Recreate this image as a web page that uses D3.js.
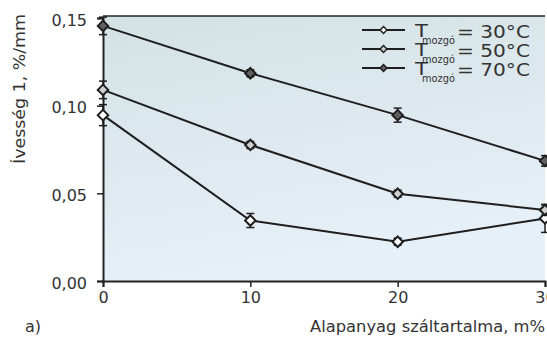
<!DOCTYPE html>
<html>
<head>
<meta charset="utf-8">
<script src="https://cdn.jsdelivr.net/npm/d3@7"></script>
<style>
  body { margin: 0; background: #fff; overflow: hidden; }
  text { font-family: "DejaVu Sans", Arial, sans-serif; fill: #333; }
</style>
</head>
<body>
<div id="chart"></div>
<script>
// data
var fiber = [0, 10, 20, 30];
var temps = ["30°C", "50°C", "70°C"];
var curv30 = [0.0946, 0.0345, 0.0224, 0.0357];
var curv50 = [0.1090, 0.0776, 0.0498, 0.0405];
var curv70 = [0.1455, 0.1185, 0.0946, 0.0685];
var err30 = [0.006, 0.004, 0.002, 0.008];
var err50 = [0.005, 0.002, 0.002, 0.003];
var err70 = [0.005, 0.002, 0.004, 0.003];
var yTicks = [0, 0.05, 0.10, 0.15];
var markerFill = ["#ffffff", "#d0d0d0", "#606060"];

var series = [
  {name: temps[0], vals: curv30, err: err30, fill: markerFill[0]},
  {name: temps[1], vals: curv50, err: err50, fill: markerFill[1]},
  {name: temps[2], vals: curv70, err: err70, fill: markerFill[2]}
];

var margin = {top: 18, right: 2, bottom: 56, left: 103},
    width = 547 - margin.left - margin.right,
    height = 281 - margin.top;

var svg = d3.select("#chart").append("svg")
    .attr("width", 547)
    .attr("height", 337);

// background gradient
var grad = svg.append("defs").append("linearGradient")
    .attr("id", "bg").attr("x1", 0).attr("y1", 0).attr("x2", 0.3).attr("y2", 1);
grad.append("stop").attr("offset", "0%").attr("stop-color", "#d4e2e4");
grad.append("stop").attr("offset", "100%").attr("stop-color", "#e6f0f8");

var g = svg.append("g")
    .attr("transform", "translate(" + margin.left + "," + margin.top + ")");

var x = d3.scaleLinear().domain([0, 30]).range([0, width]);
var y = d3.scaleLinear().domain([0, 0.15]).range([height, 0]);

g.append("rect")
  .attr("y", -2)
  .attr("width", width).attr("height", height + 2)
  .attr("fill", "url(#bg)");

// frame top
g.append("line").attr("x1", 0).attr("x2", width).attr("y1", -2).attr("y2", -2)
  .attr("stroke", "#222").attr("stroke-width", 1.5);

var fmt = function(d) { return d3.format(".2f")(d).replace(".", ","); };

var yAxis = g.append("g")
  .call(d3.axisLeft(y).tickValues(yTicks).tickFormat(fmt).tickSize(6).tickPadding(10));
var xAxis = g.append("g")
  .attr("transform", "translate(0," + height + ")")
  .call(d3.axisBottom(x).tickValues(fiber).tickSize(6).tickPadding(5));
[yAxis, xAxis].forEach(function(a) {
  a.select(".domain").attr("stroke", "#222").attr("stroke-width", 2);
  a.selectAll(".tick line").attr("stroke", "#222").attr("stroke-width", 1.5);
  a.selectAll("text").attr("font-family", null).style("font-size", "16px").attr("fill", "#333");
});
yAxis.selectAll("text").attr("dy", "0.45em");

// lines
var line = d3.line()
  .x(function(d, i) { return x(fiber[i]); })
  .y(function(d) { return y(d); });

series.forEach(function(s) {
  g.append("path")
    .datum(s.vals)
    .attr("d", line)
    .attr("fill", "none")
    .attr("stroke", "#1e1e1e")
    .attr("stroke-width", 2);
});

// error bars and markers
var diamond = d3.symbol().type(d3.symbolDiamond2).size(70);
series.forEach(function(s) {
  var pts = s.vals.map(function(v, i) { return {x: fiber[i], v: v, e: s.err[i]}; });
  var eb = g.append("g");
  pts.forEach(function(p) {
    var cx = x(p.x);
    eb.append("line").attr("x1", cx).attr("x2", cx)
      .attr("y1", y(p.v + p.e)).attr("y2", y(p.v - p.e))
      .attr("stroke", "#1e1e1e").attr("stroke-width", 1.5);
    [p.v + p.e, p.v - p.e].forEach(function(c) {
      eb.append("line").attr("x1", cx - 4).attr("x2", cx + 4)
        .attr("y1", y(c)).attr("y2", y(c))
        .attr("stroke", "#1e1e1e").attr("stroke-width", 1.5);
    });
  });
  g.append("g").selectAll("path")
    .data(pts)
    .enter()
    .append("path")
      .attr("d", diamond)
      .attr("transform", function(d) { return "translate(" + x(d.x) + "," + y(d.v) + ")"; })
      .attr("fill", s.fill)
      .attr("stroke", "#1e1e1e")
      .attr("stroke-width", 2);
});

// legend
var legend = svg.append("g").attr("transform", "translate(362,30)");
series.forEach(function(s, i) {
  var row = legend.append("g").attr("transform", "translate(0," + (i * 19) + ")");
  row.append("line").attr("x1", 0).attr("x2", 43)
    .attr("stroke", "#1e1e1e").attr("stroke-width", 2);
  row.append("path")
    .attr("d", d3.symbol().type(d3.symbolDiamond2).size(30))
    .attr("transform", "translate(21.5,0)")
    .attr("fill", s.fill).attr("stroke", "#1e1e1e").attr("stroke-width", 1.5);
  row.append("text").attr("x", 53).attr("y", 7).style("font-size", "17px")
    .attr("textLength", 13).attr("lengthAdjust", "spacingAndGlyphs").text("T");
  row.append("text").attr("x", 60).attr("y", 14).style("font-size", "11px")
    .attr("textLength", 33).attr("lengthAdjust", "spacingAndGlyphs").text("mozgó");
  row.append("text").attr("x", 95).attr("y", 8).style("font-size", "17px")
    .attr("textLength", 73).attr("lengthAdjust", "spacingAndGlyphs")
    .text("= " + s.name);
});

// axis titles
svg.append("text")
  .attr("transform", "translate(25,89) rotate(-90)")
  .style("text-anchor", "middle")
  .style("font-size", "16px")
  .attr("textLength", 150).attr("lengthAdjust", "spacingAndGlyphs")
  .text("Ívesség 1, %/mm");

svg.append("text")
  .attr("x", 310).attr("y", 332)
  .style("font-size", "16px")
  .attr("textLength", 235).attr("lengthAdjust", "spacingAndGlyphs")
  .text("Alapanyag száltartalma, m%");

svg.append("text")
  .attr("x", 25).attr("y", 332)
  .style("font-size", "16px")
  .text("a)");
</script>
</body>
</html>
